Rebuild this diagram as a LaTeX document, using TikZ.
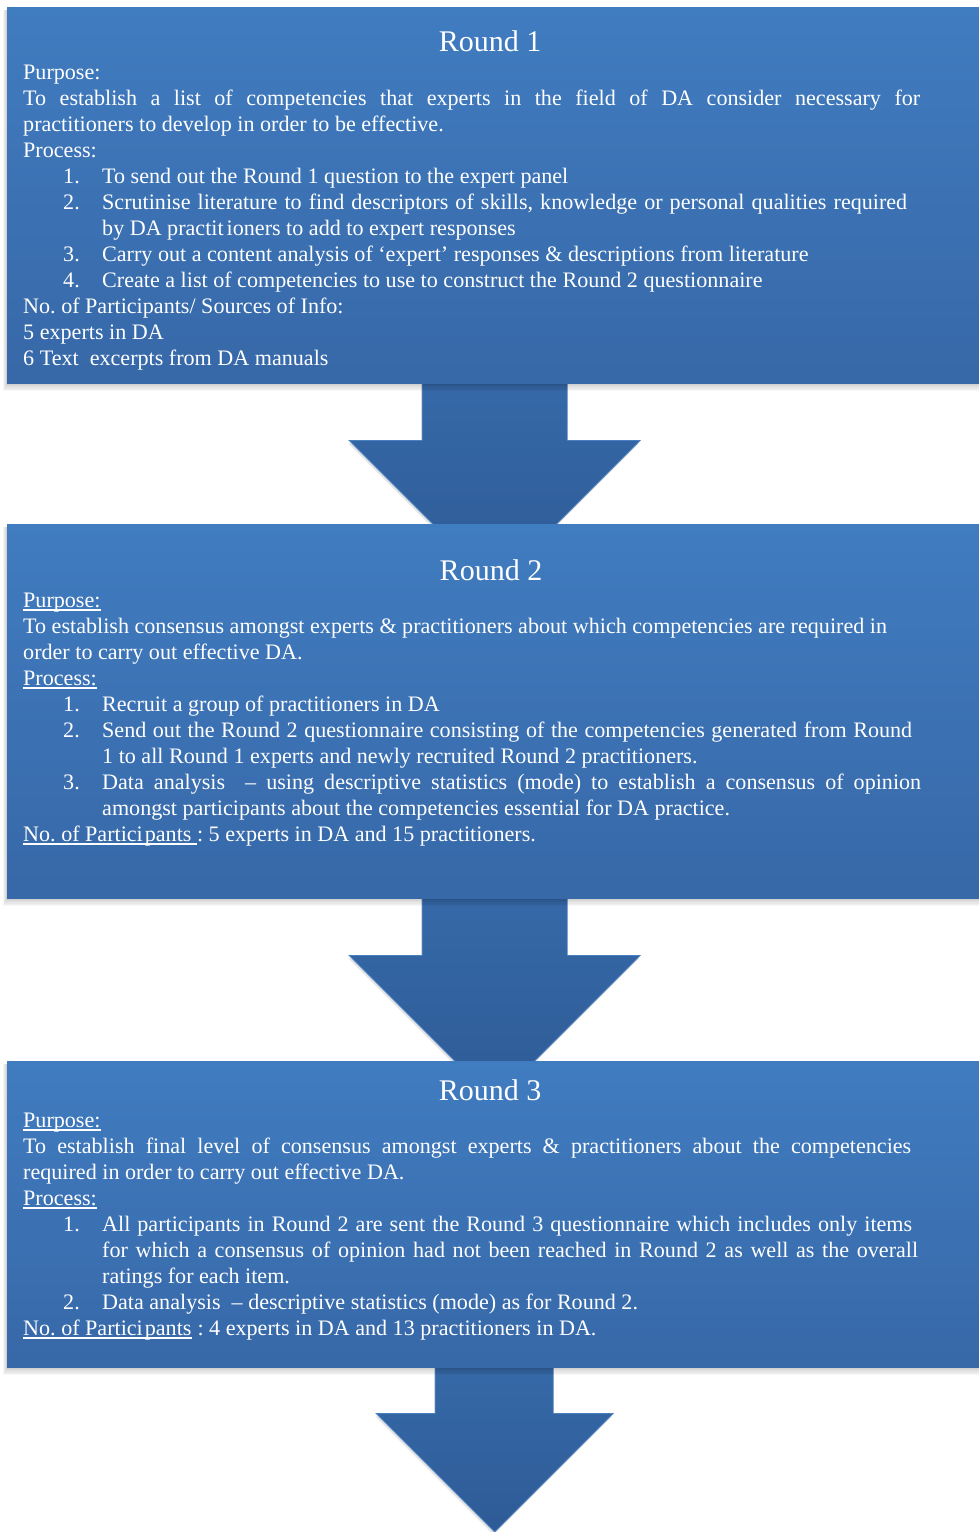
\documentclass[tikz,border=0pt]{standalone}
\usepackage{fontspec}
\setmainfont{Liberation Serif}
\usetikzlibrary{calc}
\definecolor{boxtop}{HTML}{407CC0}
\definecolor{boxbot}{HTML}{3768A8}
\definecolor{arrtop}{HTML}{3669A8}
\definecolor{arrbot}{HTML}{2E5B96}
\definecolor{arredge}{HTML}{4A80C2}
\pgfdeclarelayer{back}
\pgfdeclarelayer{bg}
\pgfsetlayers{back,bg,main}
\newcommand\ulin[1]{\leavevmode\setbox0=\hbox{#1}\rlap{\rule[-3.6pt]{\wd0}{1.3pt}}\box0}
\newcommand\itm[1]{\hspace*{40pt}\makebox[39pt][l]{#1}}
\newcommand\contline{\hspace*{79pt}}
\newcommand\sprd[2]{\makebox[#1pt][s]{\spaceskip=0pt\xspaceskip=0pt\relax #2}}
\newcommand\fixsp{\spaceskip=0pt\xspaceskip=0pt\frenchspacing\relax}
\newcommand\arrowpath[7]{($(#1.south)+(#2,-2)$) -- ($(#1.south)+(#2,#4)$) -- ($(#1.south)+(#5,#4)$) -- ($(#1.south)+(1,#7)$) -- ($(#1.south)+(#6,#4)$) -- ($(#1.south)+(#3,#4)$) -- ($(#1.south)+(#3,-2)$) -- cycle}
\tikzset{
  roundbox/.style={anchor=north west, inner sep=0pt, minimum width=973pt, top color=boxtop, bottom color=boxbot},
  body/.style={anchor=base west, inner sep=0pt, text width=950pt, align=left, text=white, font=\fontsize{22.1}{26}\selectfont},
  ttl/.style={anchor=base, inner sep=0pt, text=white, font=\fontsize{30}{36}\selectfont},
  blockarrow/.style={top color=arrtop, bottom color=arrbot, draw=arredge, line width=0.8pt, line join=miter},
  arrshadow/.style={fill=black, opacity=0.10, transform canvas={xshift=-1pt,yshift=-3pt}}
}
\begin{document}
\begin{tikzpicture}[x=1pt,y=-1pt]
\useasboundingbox (0,0) rectangle (978,1532);
\begin{pgfonlayer}{back}
\fill[white] (0,0) rectangle (978,1532);
\end{pgfonlayer}

% boxes
\node[roundbox, minimum height=376pt] (r1) at (7,7) {};
\node[roundbox, minimum height=374pt] (r2) at (7,524) {};
\node[roundbox, minimum height=306pt] (r3) at (7,1061) {};

% arrows and shadows
\begin{pgfonlayer}{bg}
\fill[arrshadow] \arrowpath{r1}{-71.5}{73.5}{57}{-144.5}{146.5}{202.5};
\path[blockarrow] \arrowpath{r1}{-71.5}{73.5}{57}{-144.5}{146.5}{202.5};
\fill[arrshadow] \arrowpath{r2}{-71.5}{73.5}{57}{-144.5}{146.5}{202.5};
\path[blockarrow] \arrowpath{r2}{-71.5}{73.5}{57}{-144.5}{146.5}{202.5};
\fill[arrshadow] \arrowpath{r3}{-58.5}{59.5}{46}{-117.5}{119.5}{164.5};
\path[blockarrow] \arrowpath{r3}{-58.5}{59.5}{46}{-117.5}{119.5}{164.5};
\foreach \b in {r1,r2,r3}{
  \foreach \s in {1,...,6}{
    \fill[black, opacity=0.03] ($(\b.north west)+(-0.7*\s,3)$) rectangle ($(\b.south east)+(0,1.3*\s)$);
  }
}
\end{pgfonlayer}

% Round 1
\node[ttl] (t1) at (490,51) {Round 1};
\node[body] (b1) at (23,79) {\fixsp Purpose:\\
\sprd{897}{To establish a list of competencies that experts in the field of DA consider necessary for}\\
practitioners to develop in order to be effective.\\
Process:\\
\itm{1.}To send out the Round 1 question to the expert panel\\
\itm{2.}\sprd{805}{Scrutinise literature to find descriptors of skills, knowledge or personal qualities required}\\
\contline by DA practit\hspace{3pt}ioners to add to expert responses\\
\itm{3.}Carry out a content analysis of ‘expert’ responses \& descriptions from literature\\
\itm{4.}Create a list of competencies to use to construct the Round 2 questionnaire\\
No. of Participants/ Sources of Info:\\
5 experts in DA\\
6 Text\ \ excerpts from DA manuals};

% Round 2
\node[ttl] (t2) at (491,580) {Round 2};
\node[body] (b2) at (23,607) {\fixsp\ulin{Purpose:}\\
To establish consensus amongst experts \& practitioners about which competencies are required in\\
order to carry out effective DA.\\
\ulin{Process:}\\
\itm{1.}Recruit a group of practitioners in DA\\
\itm{2.}\sprd{810}{Send out the Round 2 questionnaire consisting of the competencies generated from Round}\\
\contline 1 to all Round 1 experts and newly recruited Round 2 practitioners.\\
\itm{3.}\sprd{819}{Data analysis\ \ – using descriptive statistics (mode) to establish a consensus of opinion}\\
\contline amongst participants about the competencies essential for DA practice.\\
\ulin{No. of Partici\hspace{2pt}pants\ }: 5 experts in DA and 15 practitioners.};

% Round 3
\node[ttl] (t3) at (490,1100) {Round 3};
\node[body] (b3) at (23,1127) {\fixsp\ulin{Purpose:}\\
\sprd{888}{To establish final level of consensus amongst experts \& practitioners about the competencies}\\
required in order to carry out effective DA.\\
\ulin{Process:}\\
\itm{1.}\sprd{810}{All participants in Round 2 are sent the Round 3 questionnaire which includes only items}\\
\contline\sprd{816}{for which a consensus of opinion had not been reached in Round 2 as well as the overall}\\
\contline ratings for each item.\\
\itm{2.}Data analysis\ \ – descriptive statistics (mode) as for Round 2.\\
\ulin{No. of Partici\hspace{2pt}pants}\hspace{6pt}: 4 experts in DA and 13 practitioners in DA.};
\end{tikzpicture}
\end{document}
